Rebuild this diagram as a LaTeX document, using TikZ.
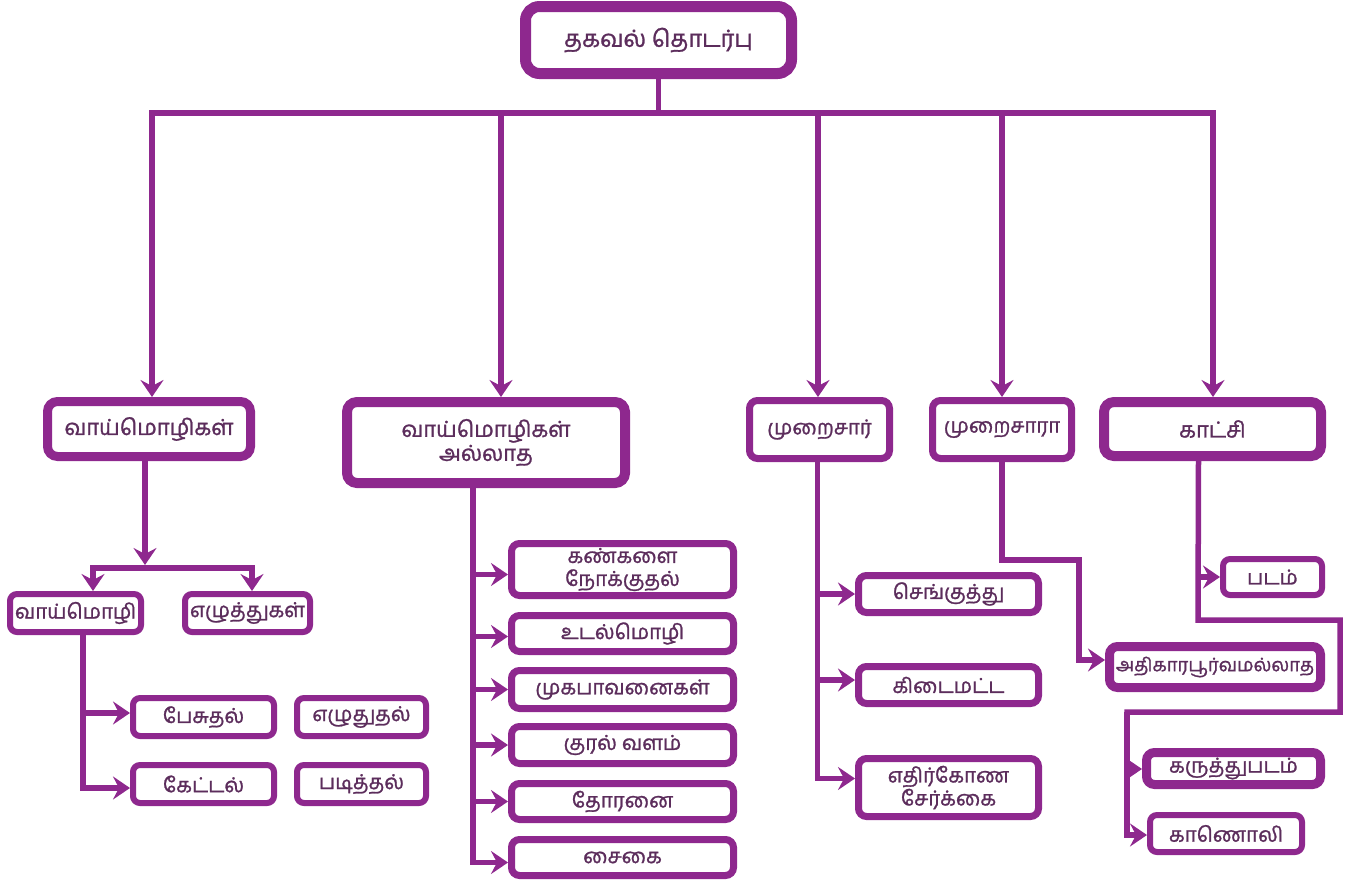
\documentclass[tikz,border=0pt]{standalone}
\usepackage{fontspec}
\newfontfamily\tamil[Script=Tamil, FakeBold=1.2]{Hind Madurai}
\usetikzlibrary{arrows.meta}
\definecolor{plum}{RGB}{142,40,142}
\definecolor{ink}{RGB}{92,45,92}
\tikzset{
  box/.style={draw=plum, fill=white, text=ink, font=\tamil\fontsize{20.5}{24}\selectfont,
    align=center, inner sep=0pt, rounded corners=#1},
  box/.default=8pt,
  bigbox/.style={box=14pt, line width=11pt, font=\tamil\fontsize{23.5}{28}\selectfont},
  headbox/.style={box=10pt, line width=9pt, font=\tamil\fontsize{22}{25}\selectfont},
  midbox/.style={box=8pt, line width=7pt},
  thinbox/.style={box=7pt, line width=6pt},
  conn/.style={draw=plum, line width=5.5pt},
  arr/.style={conn, -{Stealth[length=17pt, width=23pt, inset=6pt]}},
}
\begin{document}
\begin{tikzpicture}[x=1pt, y=-1pt]
\useasboundingbox (0,0) rectangle (1345,884);

% root
\node[bigbox, minimum width=266pt, minimum height=67pt] (root) at (658.5,40) {தகவல் தொடர்பு};

% first level
\node[headbox, minimum width=203pt, minimum height=55pt] (oral) at (149,429) {வாய்மொழிகள்};
\node[headbox, line width=10pt, minimum width=278pt, minimum height=81pt] (nonoral) at (486,442.5) {வாய்மொழிகள்\\[-1pt]அல்லாத};
\node[midbox, font=\tamil\fontsize{20.5}{24}\selectfont, minimum width=140pt, minimum height=58pt] (formal) at (819.5,429.5) {முறைசார்};
\node[midbox, font=\tamil\fontsize{20.5}{24}\selectfont, minimum width=139pt, minimum height=58pt] (informal) at (1002,429.5) {முறைசாரா};
\node[headbox, line width=10pt, minimum width=217pt, minimum height=54pt] (visual) at (1212.5,429) {காட்சி};

% oral branch
\node[thinbox, minimum width=131pt, minimum height=38pt] (speech) at (75.5,613) {வாய்மொழி};
\node[thinbox, minimum width=125pt, minimum height=38pt] (letters) at (247.5,613) {எழுத்துகள்};
\node[thinbox, minimum width=141pt, minimum height=38pt] (speak) at (203.5,717) {பேசுதல்};
\node[thinbox, minimum width=129pt, minimum height=38pt] (write) at (361.5,717) {எழுதுதல்};
\node[thinbox, minimum width=141pt, minimum height=38pt] (listen) at (203.5,784) {கேட்டல்};
\node[thinbox, minimum width=129pt, minimum height=38pt] (read) at (361.5,784) {படித்தல்};

% non-oral branch
\begin{scope}[every node/.append style={midbox, minimum width=222pt}]
\node[minimum height=52pt] (eyes) at (622.5,569.5) {கண்களை\\[-1pt]நோக்குதல்};
\node[minimum height=36pt] (body) at (622.5,633.5) {உடல்மொழி};
\node[minimum height=38pt] (face) at (622.5,689.5) {முகபாவனைகள்};
\node[minimum height=37pt] (voice) at (622.5,745) {குரல் வளம்};
\node[minimum height=36pt] (posture) at (622.5,801.5) {தோரனை};
\node[minimum height=36pt] (gesture) at (622.5,857.5) {சைகை};
\end{scope}

% formal branch
\begin{scope}[every node/.append style={midbox, minimum width=180pt}]
\node[minimum height=37pt] (vert) at (948.5,594) {செங்குத்து};
\node[minimum height=37pt] (horiz) at (948.5,685) {கிடைமட்ட};
\node[minimum height=58pt] (diag) at (948.5,787.5) {எதிர்கோண\\[-1pt]சேர்க்கை};
\end{scope}

% informal branch
\node[midbox, line width=9pt, font=\tamil\fontsize{18.5}{22}\selectfont, minimum width=211pt, minimum height=41pt] (unofficial) at (1215,667) {அதிகாரபூர்வமல்லாத};

% visual branch
\node[thinbox, minimum width=99pt, minimum height=36pt] (picture) at (1272.5,577) {படம்};
\node[midbox, line width=9pt, minimum width=174pt, minimum height=32pt] (cartoon) at (1233.5,768.5) {கருத்துபடம்};
\node[thinbox, minimum width=152pt, minimum height=37pt] (video) at (1226,833.5) {காணொலி};

% root to first level
\coordinate (bus) at (658.5,113);
\draw[conn] (root.south) -- (bus);
\draw[arr] (bus) -| ([xshift=3pt]oral.north);
\draw[arr] (bus) -| ([xshift=15pt]nonoral.north);
\draw[arr] (bus) -| ([xshift=-1.5pt]formal.north);
\draw[arr] (bus) -| (informal.north);
\draw[arr] (bus) -| ([xshift=0.5pt]visual.north);

% oral connectors
\coordinate (split) at (145,568);
\draw[arr] ([xshift=-4pt]oral.south) -- ([yshift=3pt]split);
\draw[arr] (split) -| ([xshift=17.5pt]speech.north);
\draw[arr] (split) -| ([xshift=4.5pt]letters.north);
\coordinate (ospine) at ([xshift=7.5pt]speech.south);
\draw[arr] (ospine) |- ([yshift=4pt]speak.west);
\draw[arr] (ospine) |- ([yshift=-4pt]listen.west);

% non-oral connectors
\coordinate (nspine) at ([xshift=-13pt]nonoral.south);
\foreach \n/\dy in {eyes/-5, body/-3, face/0, voice/0, posture/0, gesture/-5}
  \draw[arr] (nspine) |- ([yshift=\dy pt]\n.west);

% formal connectors
\coordinate (fspine) at ([xshift=-2pt]formal.south);
\draw[arr] (fspine) |- (vert.west);
\draw[arr] (fspine) |- ([yshift=5pt]horiz.west);
\draw[arr] (fspine) |- ([yshift=9pt]diag.west);

% informal connector
\coordinate (ibend) at (1079,560);
\draw[arr] (informal.south) |- (ibend) |- ([yshift=7pt]unofficial.west);

% visual connectors
\coordinate (vspine) at ([xshift=-14pt]visual.south);
\coordinate (vturn) at (1198,620);
\coordinate (vright) at (1340,712);
\coordinate (vleft) at (1127,712);
\draw[arr] (vspine) |- (picture.west);
\draw[conn] (vspine) -- (vturn) -| (vright) -- (vleft) -- ++(0,10);
\draw[arr] (vleft) |- ([yshift=-0.5pt]cartoon.west);
\draw[arr] (vleft) |- ([yshift=-1.5pt]video.west);
\end{tikzpicture}
\end{document}
